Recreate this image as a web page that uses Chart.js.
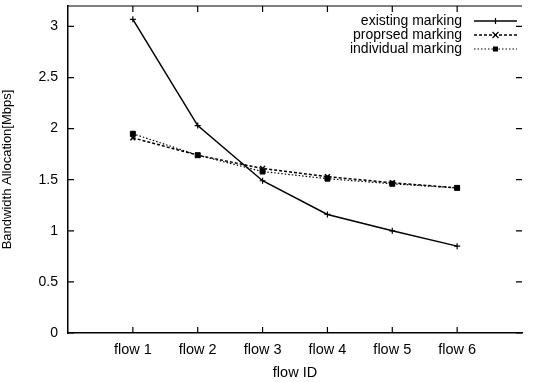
<!DOCTYPE html>
<html>
<head>
  <meta charset="UTF-8">
  <title>Bandwidth Allocation per Flow</title>
  <script src="https://cdn.jsdelivr.net/npm/chart.js"></script>
  <style>
    html, body { margin: 0; padding: 0; background: #fff; }
    #wrap { width: 533px; height: 382px; }
  </style>
</head>
<body>
  <div id="wrap"><canvas id="bwChart" width="533" height="382"></canvas></div>

  <script>
    // values
    const flowIds = [1, 2, 3, 4, 5, 6];
    const existingMarking = [3.07, 2.03, 1.49, 1.16, 1.00, 0.85];
    const proposedMarking = [1.91, 1.74, 1.61, 1.53, 1.47, 1.42];
    const individualMarking = [1.95, 1.74, 1.58, 1.51, 1.46, 1.42];
    const yTicks = [0, 0.5, 1, 1.5, 2, 2.5, 3];

    const toPoints = vals => vals.map((v, i) => ({ x: flowIds[i], y: v }));
    const font = 'Liberation Sans, Arial, sans-serif';

    // inward tick marks, top border and gnuplot-style legend
    const framePlugin = {
      id: 'frame',
      afterDraw(chart) {
        const ctx = chart.ctx;
        const a = chart.chartArea;
        const xs = chart.scales.x, ys = chart.scales.y;
        const len = 6;
        ctx.save();
        ctx.strokeStyle = '#000';
        ctx.lineWidth = 1.2;
        ctx.beginPath();
        ctx.moveTo(a.left, a.top);
        ctx.lineTo(a.right, a.top);
        flowIds.forEach(f => {
          const px = xs.getPixelForValue(f);
          ctx.moveTo(px, a.bottom); ctx.lineTo(px, a.bottom - len);
          ctx.moveTo(px, a.top); ctx.lineTo(px, a.top + len);
        });
        yTicks.forEach(t => {
          const py = ys.getPixelForValue(t);
          ctx.moveTo(a.left, py); ctx.lineTo(a.left + len, py);
          ctx.moveTo(a.right, py); ctx.lineTo(a.right - len, py);
        });
        ctx.stroke();

        // legend: text right-aligned, sample line to the right
        ctx.font = '14px ' + font;
        ctx.textAlign = 'right';
        ctx.textBaseline = 'middle';
        ctx.fillStyle = '#000';
        chart.data.datasets.forEach((ds, i) => {
          const y = a.top + 15 + i * 14;
          const x1 = a.right - 48, x2 = a.right - 5;
          ctx.fillText(ds.label, x1 - 12, y);
          ctx.beginPath();
          ctx.lineWidth = ds.borderWidth;
          ctx.setLineDash(ds.borderDash || []);
          ctx.moveTo(x1, y); ctx.lineTo(x2, y);
          ctx.stroke();
          ctx.setLineDash([]);
          const mx = (x1 + x2) / 2;
          ctx.lineWidth = 1.2;
          ctx.beginPath();
          if (ds.pointStyle === 'rect') {
            ctx.fillRect(mx - 2.5, y - 2.5, 5, 5);
          } else if (ds.pointStyle === 'crossRot') {
            ctx.moveTo(mx - 3, y - 3); ctx.lineTo(mx + 3, y + 3);
            ctx.moveTo(mx - 3, y + 3); ctx.lineTo(mx + 3, y - 3);
          } else {
            ctx.moveTo(mx, y - 3); ctx.lineTo(mx, y + 3);
          }
          ctx.stroke();
        });
        ctx.restore();
      }
    };

    const ctx = document.getElementById('bwChart').getContext('2d');
    new Chart(ctx, {
      type: 'line',
      data: {
        datasets: [
          {
            label: 'existing marking',
            data: toPoints(existingMarking),
            borderColor: '#000',
            backgroundColor: '#000',
            borderWidth: 1.5,
            pointStyle: 'cross',
            pointRadius: 3,
            pointBorderWidth: 1.2,
            fill: false,
            tension: 0
          },
          {
            label: 'proprsed marking',
            data: toPoints(proposedMarking),
            borderColor: '#000',
            backgroundColor: '#000',
            borderWidth: 1.5,
            borderDash: [3, 2],
            pointStyle: 'crossRot',
            pointRadius: 3.5,
            pointBorderWidth: 1.5,
            fill: false,
            tension: 0
          },
          {
            label: 'individual marking',
            data: toPoints(individualMarking),
            borderColor: '#000',
            backgroundColor: '#000',
            borderWidth: 1.2,
            borderDash: [1.5, 2],
            pointStyle: 'rect',
            pointRadius: 3.5,
            pointBorderWidth: 1,
            fill: false,
            tension: 0
          }
        ]
      },
      options: {
        responsive: false,
        animation: false,
        layout: { padding: { top: 6, right: 11, left: 0, bottom: 0 } },
        plugins: {
          legend: { display: false },
          tooltip: { enabled: false }
        },
        scales: {
          x: {
            type: 'linear',
            min: 0,
            max: 7,
            afterFit(scale) {
              scale.height = 49;
              scale.paddingLeft = 0;
              scale.paddingRight = 0;
            },
            afterBuildTicks(scale) {
              scale.ticks = flowIds.map(v => ({ value: v }));
            },
            ticks: {
              color: '#000',
              font: { family: font, size: 14.5 },
              padding: 8,
              callback: v => 'flow ' + v
            },
            grid: { display: false, drawTicks: false },
            border: { color: '#000', width: 1.5 },
            title: {
              display: true,
              text: 'flow ID',
              color: '#000',
              font: { family: font, size: 14.5 },
              padding: { top: 3, bottom: 0 }
            }
          },
          y: {
            min: 0,
            max: 3.2,
            afterFit(scale) {
              scale.width = 68;
              scale.paddingTop = 0;
              scale.paddingBottom = 0;
            },
            afterBuildTicks(scale) {
              scale.ticks = yTicks.map(v => ({ value: v }));
            },
            ticks: {
              color: '#000',
              font: { family: font, size: 14 },
              padding: 10,
              callback: v => String(v)
            },
            grid: { display: false, drawTicks: false },
            border: { color: '#000', width: 1.5 },
            title: {
              display: true,
              text: 'Bandwidth Allocation[Mbps]',
              color: '#000',
              font: { family: font, size: 13 },
              padding: { top: 0, bottom: 4 }
            }
          }
        }
      },
      plugins: [framePlugin]
    });
  </script>
</body>
</html>
